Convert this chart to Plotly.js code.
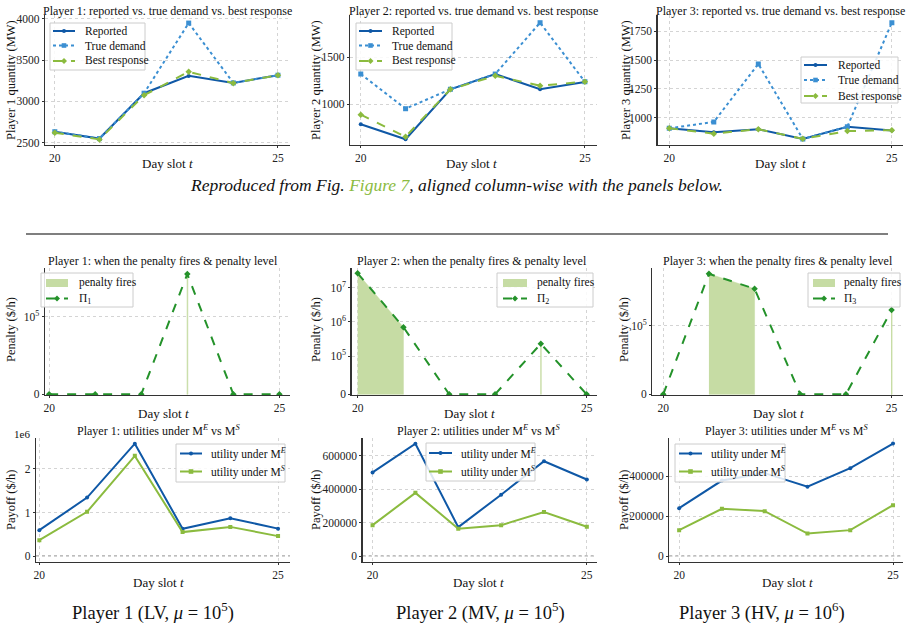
<!DOCTYPE html>
<html><head><meta charset="utf-8">
<script src="https://cdn.plot.ly/plotly-3.0.1.min.js"></script>
<style>html,body{margin:0;padding:0;background:#fff}#c{width:911px;height:632px}</style>
</head><body><div id="c"></div>
<script>
// ---------------- data ----------------
const t = [20, 21, 22, 23, 24, 25];

const p1Reported = [2633, 2550, 3100, 3310, 3225, 3318];
const p1True     = [2633, 2550, 3100, 3950, 3225, 3318];
const p1Best     = [2620, 2540, 3075, 3360, 3222, 3318];

const p2Reported = [787, 628, 1160, 1322, 1160, 1237];
const p2True     = [1322, 953, 1160, 1322, 1868, 1240];
const p2Best     = [890, 655, 1160, 1303, 1198, 1240];

const p3Reported = [911, 877, 903, 819, 925, 893];
const p3True     = [911, 966, 1466, 819, 925, 1822];
const p3Best     = [911, 865, 903, 820, 887, 895];

const pen1 = [0, 0, 0, 4.1e5, 0, 0];
const pen2 = [2.6e7, 7.0e5, 0, 0, 2.3e5, 0];
const pen3 = [0, 7.0e5, 4.0e5, 0, 0, 1.8e5];
const fires1 = [0, 0, 0, 1, 0, 0];
const fires2 = [1, 1, 0, 0, 1, 0];
const fires3 = [0, 1, 1, 0, 0, 1];

const u1E = [595000, 1343000, 2580000, 627000, 870000, 630000];
const u1S = [366000, 1016000, 2300000, 550000, 670000, 458000];
const u2E = [500000, 672000, 173000, 367000, 567000, 458000];
const u2S = [185000, 378000, 164000, 185000, 263000, 175000];
const u3E = [240000, 378000, 415000, 347000, 440000, 563000];
const u3S = [130000, 237000, 225000, 113000, 130000, 255000];

const symTickVals = [0, 1e5, 1e6, 1e7];
const symTickText = ['0', '10<sup>5</sup>', '10<sup>6</sup>', '10<sup>7</sup>'];

// ---------------- helpers ----------------
const W = 911, H = 632;
const PX = v => v / W;
const PY = v => 1 - v / H;
const FONT = 'Liberation Serif, Times New Roman, serif';
const BLUE = '#0f58a6', LBLUE = '#3b8fd2', GREEN = '#8bbb3f', DGREEN = '#24922a', FILL = '#c6dca4';

// symlog (linthresh 1e5, linscale 1, base 10)
const LT = 1e5, LS = 1 / (1 - 0.1);
const sl = v => (v <= LT ? v / LT * LS : LS + Math.log10(v / LT));

const STY = {
  rep:  {color: BLUE,   dash: 'solid', symbol: 'circle',  size: 4},
  tru:  {color: LBLUE,  dash: 'dot',   symbol: 'square',  size: 5},
  best: {color: GREEN,  dash: 'dash',  symbol: 'diamond', size: 5},
  pi:   {color: DGREEN, dash: 'dash',  symbol: 'diamond', size: 5},
  uE:   {color: BLUE,   dash: 'solid', symbol: 'circle',  size: 4},
  uS:   {color: GREEN,  dash: 'solid', symbol: 'square',  size: 4}
};

const traces = [];
const ax = k => (k === 1 ? '' : String(k));
function line(k, y, name, st) {
  traces.push({
    x: t, y: y, name: name, type: 'scatter', mode: 'lines+markers', showlegend: false,
    line: {color: st.color, width: 2, dash: st.dash},
    marker: {color: st.color, symbol: st.symbol, size: st.size},
    xaxis: 'x' + ax(k), yaxis: 'y' + ax(k)
  });
}
function fires(k, pen, fl) {
  const xs = [], ys = [];
  let i = 0;
  while (i < t.length) {
    if (!fl[i]) { i++; continue; }
    let j = i;
    while (j + 1 < t.length && fl[j + 1]) j++;
    if (i === j) {
      xs.push(t[i] - 0.012, t[i] + 0.012, t[i] + 0.012, t[i] - 0.012);
      ys.push(sl(pen[i]), sl(pen[i]), 0, 0);
    } else {
      for (let m = i; m <= j; m++) { xs.push(t[m]); ys.push(sl(pen[m])); }
      xs.push(t[j], t[i]); ys.push(0, 0);
    }
    xs.push(null); ys.push(null);
    i = j + 1;
  }
  traces.push({
    x: xs, y: ys, name: 'penalty fires', type: 'scatter', mode: 'lines', fill: 'toself', showlegend: false,
    fillcolor: FILL, line: {color: FILL, width: 0.5},
    xaxis: 'x' + k, yaxis: 'y' + k, hoverinfo: 'skip'
  });
  line(k, pen.map(sl), 'Π', STY.pi);
}

// top row
line(1, p1Reported, 'Reported', STY.rep);
line(1, p1True, 'True demand', STY.tru);
line(1, p1Best, 'Best response', STY.best);
line(2, p2Reported, 'Reported', STY.rep);
line(2, p2True, 'True demand', STY.tru);
line(2, p2Best, 'Best response', STY.best);
line(3, p3Reported, 'Reported', STY.rep);
line(3, p3True, 'True demand', STY.tru);
line(3, p3Best, 'Best response', STY.best);
// middle row
fires(4, pen1, fires1);
fires(5, pen2, fires2);
fires(6, pen3, fires3);
// bottom row
line(7, u1E, 'utility under ME', STY.uE);
line(7, u1S, 'utility under MS', STY.uS);
line(8, u2E, 'utility under ME', STY.uE);
line(8, u2S, 'utility under MS', STY.uS);
line(9, u3E, 'utility under ME', STY.uE);
line(9, u3S, 'utility under MS', STY.uS);

// ---------------- layout ----------------
const layout = {
  width: W, height: H, margin: {l: 0, r: 0, t: 0, b: 0},
  paper_bgcolor: '#fff', plot_bgcolor: '#fff',
  font: {family: FONT, size: 11, color: '#111'},
  showlegend: false, annotations: [], shapes: []
};

const panels = [
  {px: [45, 290, 15, 145], xr: [19.78, 25.27], yr: [2472, 4048], ytv: [2500, 3000, 3500, 4000]},
  {px: [350, 597, 15, 145], xr: [19.76, 25.27], yr: [567, 1950], ytv: [1000, 1500]},
  {px: [657.7, 903, 15, 145], xr: [19.74, 25.25], yr: [767, 1888], ytv: [1000, 1250, 1500, 1750]},
  {px: [45, 290, 268, 395], xr: [19.91, 25.23], yr: [-0.01, 1.81], sym: [0, 1e5]},
  {px: [351.7, 596.7, 268, 395], xr: [19.87, 25.22], yr: [-0.02, 3.68], sym: [0, 1e5, 1e6, 1e7]},
  {px: [652.3, 903, 268, 395], xr: [19.76, 25.25], yr: [-0.011, 2.05], sym: [0, 1e5]},
  {px: [36, 290, 438, 561.7], xr: [19.93, 25.25], yr: [-129000, 2710000], ytv: [0, 1e6, 2e6], ytt: ['0', '1', '2'], zero: true},
  {px: [362.7, 596.7, 438, 561.7], xr: [19.77, 25.23], yr: [-33600, 706000], ytv: [0, 200000, 400000, 600000], zero: true},
  {px: [669.3, 903.3, 438, 561.7], xr: [19.77, 25.24], yr: [-28000, 591000], ytv: [0, 200000, 400000], zero: true}
];

const axBase = {
  showline: true, linecolor: '#333', linewidth: 1.3, mirror: false,
  ticks: 'outside', ticklen: 2, tickwidth: 1, tickcolor: '#333',
  showgrid: true, gridcolor: '#d4d4d4', griddash: 'dot', gridwidth: 1,
  zeroline: false, fixedrange: true,
  tickfont: {family: FONT, size: 11.5, color: '#222'}
};

panels.forEach((p, i) => {
  const k = i + 1, s = ax(k);
  const xd = [PX(p.px[0]), PX(p.px[1])], yd = [PY(p.px[3]), PY(p.px[2])];
  layout['xaxis' + s] = Object.assign({}, axBase, {
    domain: xd, range: p.xr, anchor: 'y' + s, tickmode: 'array', tickvals: [20, 25], ticktext: ['20', '25']
  });
  const ya = Object.assign({}, axBase, {domain: yd, range: p.yr, anchor: 'x' + s, tickmode: 'array'});
  if (p.sym) {
    ya.tickvals = p.sym.map(sl);
    ya.ticktext = p.sym.map(v => symTickText[symTickVals.indexOf(v)]);
  } else {
    ya.tickvals = p.ytv;
    ya.ticktext = p.ytt || p.ytv.map(String);
  }
  layout['yaxis' + s] = ya;
  if (p.zero) {
    layout.shapes.push({type: 'line', xref: 'x' + s + ' domain', x0: 0, x1: 1, yref: 'y' + s, y0: 0, y1: 0,
      line: {color: '#bdbdbd', width: 2, dash: 'dot'}, layer: 'below'});
  }
});

function ann(text, x, y, size, opts) {
  layout.annotations.push(Object.assign({
    text: text, x: PX(x), y: PY(y), xref: 'paper', yref: 'paper', showarrow: false,
    xanchor: 'center', yanchor: 'middle', font: {family: FONT, size: size, color: '#111'}
  }, opts || {}));
}

// ---------- hand-drawn legends (matplotlib style) ----------
function pshape(o) { layout.shapes.push(Object.assign({xref: 'paper', yref: 'paper'}, o)); }
function legend(box, sx0, sx1, tx, ys, entries) {
  pshape({type: 'rect', x0: PX(box[0]), x1: PX(box[1]), y0: PY(box[2]), y1: PY(box[3]),
    fillcolor: 'rgba(255,255,255,0.85)', line: {color: '#cccccc', width: 1}});
  entries.forEach((e, i) => {
    const y = ys[i];
    if (e.patch) {
      pshape({type: 'rect', x0: PX(sx0), x1: PX(sx1), y0: PY(y - 4), y1: PY(y + 4), fillcolor: FILL, line: {width: 0}});
    } else {
      const st = e.st, cx = (sx0 + sx1) / 2;
      pshape({type: 'line', x0: PX(sx0), x1: PX(sx1), y0: PY(y), y1: PY(y), line: {color: st.color, width: 2, dash: st.dash}});
      if (st.symbol === 'circle') {
        pshape({type: 'circle', x0: PX(cx - 2), x1: PX(cx + 2), y0: PY(y - 2), y1: PY(y + 2), fillcolor: st.color, line: {width: 0}});
      } else if (st.symbol === 'square') {
        pshape({type: 'rect', x0: PX(cx - 2.3), x1: PX(cx + 2.3), y0: PY(y - 2.3), y1: PY(y + 2.3), fillcolor: st.color, line: {width: 0}});
      } else {
        const r = 3;
        pshape({type: 'path', path: `M${PX(cx)},${PY(y - r)} L${PX(cx + r)},${PY(y)} L${PX(cx)},${PY(y + r)} L${PX(cx - r)},${PY(y)} Z`,
          fillcolor: st.color, line: {width: 0}});
      }
    }
    ann(e.text, tx, y, 11.5, {xanchor: 'left'});
  });
}
const topEntries = [{st: STY.rep, text: 'Reported'}, {st: STY.tru, text: 'True demand'}, {st: STY.best, text: 'Best response'}];
legend([50, 145, 23, 70], 53, 75, 83, [31, 45.5, 61], topEntries);
legend([356, 452, 23, 70], 359, 382, 390, [31, 45.5, 61], topEntries);
legend([801, 898, 57, 103], 804, 827, 836, [65, 80, 96], topEntries);
legend([41, 133, 273, 307], 46, 68, 77, [283, 298.5], [{patch: true, text: 'penalty fires'}, {st: STY.pi, text: 'Π<sub>1</sub>'}]);
legend([497, 593, 273, 307], 503, 527, 535, [283, 298.5], [{patch: true, text: 'penalty fires'}, {st: STY.pi, text: 'Π<sub>2</sub>'}]);
legend([808, 900, 273, 307], 813, 835, 842, [283, 298.5], [{patch: true, text: 'penalty fires'}, {st: STY.pi, text: 'Π<sub>3</sub>'}]);
const botEntries = [{st: STY.uE, text: 'utility under M<sup><i>E</i></sup>'}, {st: STY.uS, text: 'utility under M<sup><i>S</i></sup>'}];
legend([176, 285, 444, 482], 180, 202, 209, [453.5, 471.5], botEntries);
legend([426, 535, 443, 481], 429, 452, 459, [453, 471.5], botEntries);
legend([675, 785, 444, 482], 679, 702, 709, [453.5, 471.5], botEntries);

// panel titles
ann('Player 1: reported vs. true demand vs. best response', 167.5, 11, 12);
ann('Player 2: reported vs. true demand vs. best response', 473.5, 11, 12);
ann('Player 3: reported vs. true demand vs. best response', 780, 11, 12);
ann('Player 1: when the penalty fires &amp; penalty level', 163, 261, 12);
ann('Player 2: when the penalty fires &amp; penalty level', 472, 261, 12);
ann('Player 3: when the penalty fires &amp; penalty level', 778, 261, 12);
ann('Player 1: utilities under M<sup><i>E</i></sup> vs M<sup><i>S</i></sup>', 158, 430, 12);
ann('Player 2: utilities under M<sup><i>E</i></sup> vs M<sup><i>S</i></sup>', 478, 430, 12);
ann('Player 3: utilities under M<sup><i>E</i></sup> vs M<sup><i>S</i></sup>', 786, 430, 12);

// y titles
ann('Player 1 quantity (MW)', 11, 80, 12.5, {textangle: -90});
ann('Player 2 quantity (MW)', 316, 80, 12.5, {textangle: -90});
ann('Player 3 quantity (MW)', 626, 80, 12.5, {textangle: -90});
ann('Penalty ($/h)', 11, 330, 12.5, {textangle: -90});
ann('Penalty ($/h)', 316, 330, 12.5, {textangle: -90});
ann('Penalty ($/h)', 624, 330, 12.5, {textangle: -90});
ann('Payoff ($/h)', 11, 500, 12.5, {textangle: -90});
ann('Payoff ($/h)', 316, 500, 12.5, {textangle: -90});
ann('Payoff ($/h)', 624, 500, 12.5, {textangle: -90});

// x titles
[[167, 163], [471, 163], [780, 163], [163, 413], [469, 413], [778, 413], [158, 582], [478, 582], [787, 582]]
  .forEach(p => ann('Day slot <i>t</i>', p[0], p[1], 13));

// offset text
ann('1e6', 22, 434, 11);

// captions
ann('<i>Reproduced from Fig. <span style="color:#8bbb3f">Figure 7</span>, aligned column-wise with the panels below.</i>', 456, 185, 17.5);
ann('Player 1 (LV, <i>μ</i> = 10<sup>5</sup>)', 153, 611, 18.5);
ann('Player 2 (MV, <i>μ</i> = 10<sup>5</sup>)', 480, 611, 18.5);
ann('Player 3 (HV, <i>μ</i> = 10<sup>6</sup>)', 762, 611, 18.5);

// horizontal rule
pshape({type: 'line', x0: PX(26), x1: PX(888), y0: PY(234), y1: PY(234), line: {color: '#555', width: 1.5}});

Plotly.newPlot('c', traces, layout, {staticPlot: true, displayModeBar: false});
</script>
</body></html>
